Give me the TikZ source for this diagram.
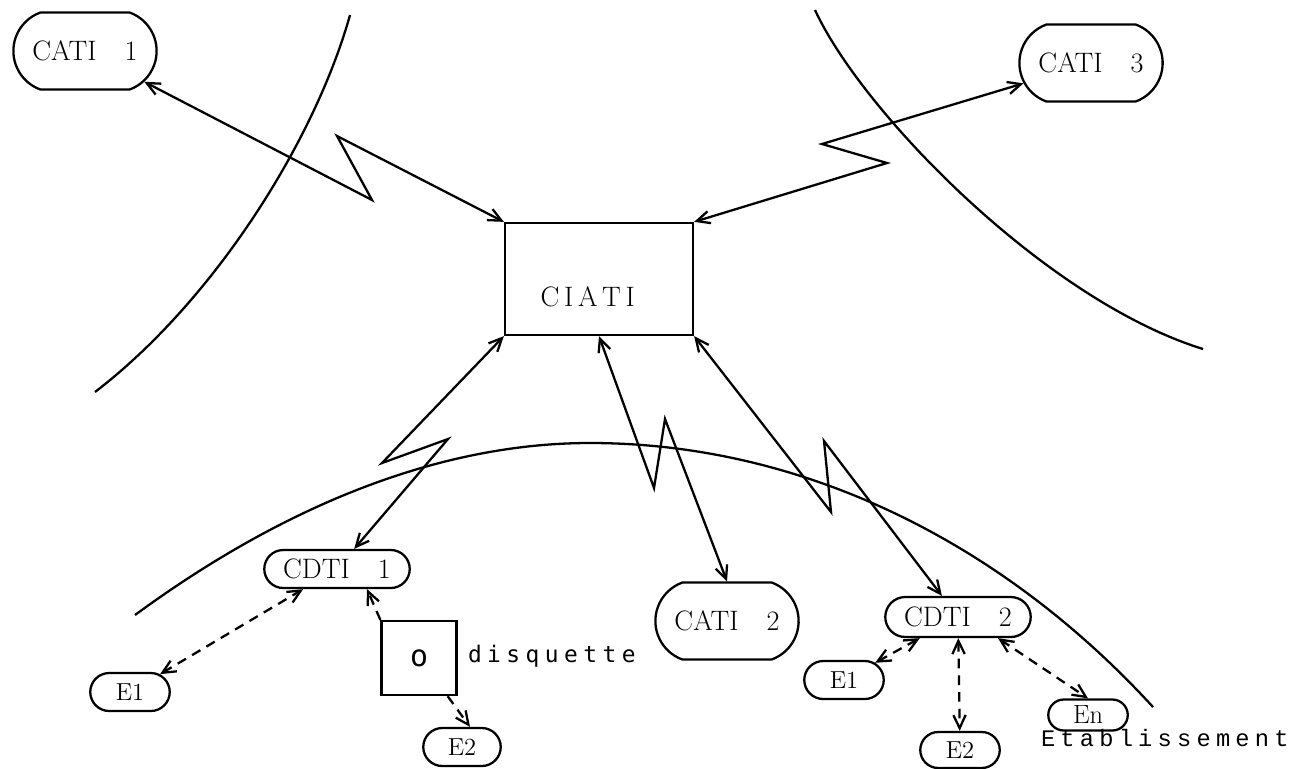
\documentclass[tikz,border=0pt]{standalone}
\usepackage{fontspec}
\usetikzlibrary{shapes.misc,arrows.meta,positioning}
\newfontfamily\diskfont[LetterSpace=24]{DejaVu Sans Mono}
\newfontfamily\etabfont[LetterSpace=22]{Liberation Mono}

\begin{document}
\begin{tikzpicture}[
x=0.02cm,
y=-0.02cm,
line width=1.3pt,
station/.style={
  draw,
  rounded rectangle,
  rounded rectangle arc length=140,
  minimum width=3.1cm,
  minimum height=1.54cm,
  font=\fontsize{16}{18}\selectfont
  },
centre/.style={
  draw,
  rectangle,
  minimum width=3.76cm,
  minimum height=2.24cm,
  font=\fontsize{16}{18}\selectfont
  },
local/.style={
  draw,
  rounded rectangle,
  minimum width=2.98cm,
  minimum height=0.76cm,
  inner sep=1pt,
  font=\fontsize{16}{18}\selectfont
  },
etab/.style={
  draw,
  rounded rectangle,
  minimum width=1.66cm,
  minimum height=0.76cm,
  inner sep=1pt,
  font=\fontsize{14}{16}\selectfont
  },
disk/.style={
  draw,
  rectangle,
  minimum width=1.5cm,
  minimum height=1.48cm,
  font=\fontsize{17}{19}\diskfont
  },
link/.style={<->},
dashlink/.style={dash pattern=on 5.5pt off 4pt},
>={Straight Barb[length=7.5pt,width=7pt]}
]
\useasboundingbox (0,0) rectangle (1293,768);

\node[station] (cati1) at (85,51) {CATI\quad 1};
\node[station] (cati3) at (1091,63) {CATI\quad 3};
\node[station] (cati2) at (727,621) {CATI\quad 2};
\node[centre] (ciati) at (599,279) {\raisebox{-0.55cm}[0pt][0pt]{\hspace*{-0.45cm}C\,I\,A\,T\,I}};

\node[local] (cdti1) at (337,569) {CDTI\quad 1};
\node[local, minimum height=0.8cm] (cdti2) at (958,617) {CDTI\quad 2};

\node[disk] (disk) at (419,658) {o};
\node[anchor=west, font=\fontsize{13}{15}\diskfont] (disklabel) at (461,656) {disquette};

\node[etab] (e1a) at (130,692) {E1};
\node[etab, minimum width=1.62cm] (e2a) at (462,747) {E2};
\node[etab] (e1b) at (844,680) {E1};
\node[etab, minimum height=0.72cm] (e2b) at (960,750) {E2};
\node[etab, minimum height=0.62cm, font=\fontsize{15}{17}\selectfont] (en) at (1088,715) {En};
\node[anchor=west, font=\fontsize{13.5}{15}\etabfont] (etablabel) at (1034,738) {Etablissement};

\coordinate (z1a) at (372,200);
\coordinate (z1b) at (337,136);
\coordinate (z3a) at (822,144);
\coordinate (z3b) at (887,163);
\coordinate (zda) at (382,463);
\coordinate (zdb) at (448,439);
\coordinate (zca) at (654,488);
\coordinate (zcb) at (665,419);
\coordinate (zea) at (831,512);
\coordinate (zeb) at (824,441);

\draw (95,392) .. controls (215,300) and (315,140) .. (350,15);
\draw (815,10) .. controls (862,112) and (1045,300) .. (1203,349);
\draw (135,615) .. controls (285,505) and (440,443) .. (590,443)
  .. controls (800,443) and (1000,540) .. (1153,707);

\draw[link] (cati1) -- (z1a) -- (z1b) -- (ciati.north west);
\draw[link] (ciati.north east) -- (z3b) -- (z3a) -- (cati3);
\draw[link] (ciati.south west) -- (zda) -- (zdb) -- (cdti1);
\draw[link] (ciati.south) -- (zca) -- (zcb) -- (cati2.north);
\draw[link] (ciati.south east) -- (zea) -- (zeb) -- (cdti2);

\draw[link, dashlink] (e1a) -- (cdti1);
\draw[->, dashlink] (disk.north west) -- ([xshift=0.6cm]cdti1.south);
\draw[->, dashlink] ([xshift=-0.2cm]disk.south east) -- ([xshift=0.16cm]e2a.north);
\draw[link, dashlink] (e1b) -- (cdti2);
\draw[link, dashlink] (cdti2) -- (e2b);
\draw[link, dashlink] ([xshift=0.8cm]cdti2.south) -- (en.north);
\end{tikzpicture}
\end{document}
